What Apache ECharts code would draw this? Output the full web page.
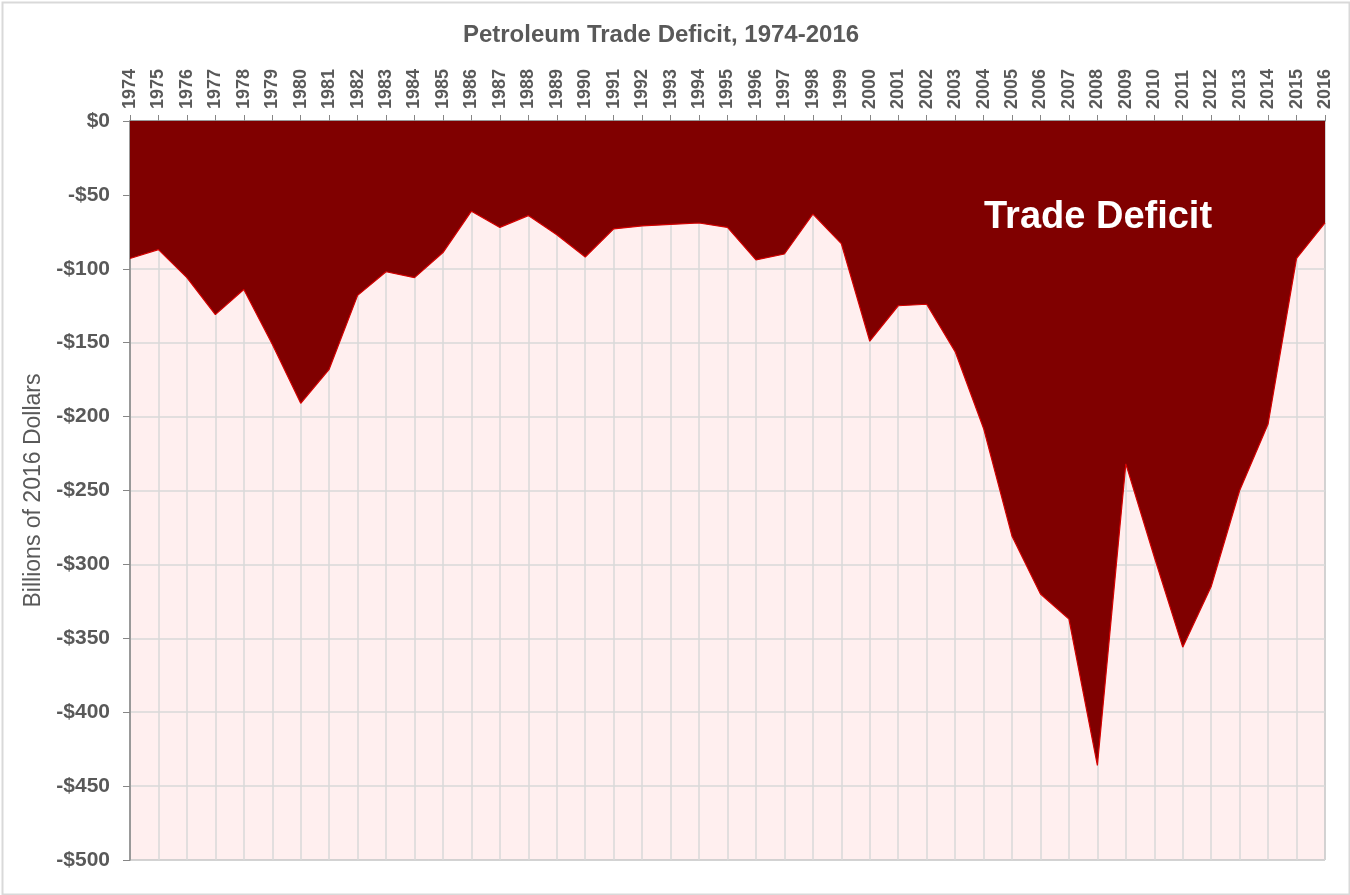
<!DOCTYPE html>
<html>
<head>
<meta charset="utf-8">
<title>Petroleum Trade Deficit, 1974-2016</title>
<script src="https://cdn.jsdelivr.net/npm/echarts@6/dist/echarts.min.js"></script>
<style>
    html, body {
        margin: 0;
        padding: 0;
        background: #ffffff;
    }
    #deficitChart {
        width: 1350px;
        height: 895px;
    }
</style>
</head>
<body>
<div id="deficitChart"></div>
<script>
// years on the top axis
var years = ["1974", "1975", "1976", "1977", "1978", "1979", "1980", "1981", "1982", "1983",
    "1984", "1985", "1986", "1987", "1988", "1989", "1990", "1991", "1992", "1993",
    "1994", "1995", "1996", "1997", "1998", "1999", "2000", "2001", "2002", "2003",
    "2004", "2005", "2006", "2007", "2008", "2009", "2010", "2011", "2012", "2013",
    "2014", "2015", "2016"];

// petroleum trade balance, billions of 2016 dollars
var deficitValues = [-93, -87, -106, -131, -114, -151, -191, -168, -118, -102,
    -106, -89, -61, -72, -64, -77, -92, -73, -71, -70,
    -69, -72, -94, -90, -63, -83, -149, -125, -124, -156,
    -208, -281, -320, -337, -436, -232, -295, -356, -315, -250,
    -205, -93, -69];

// y axis range
var yMin = -500;
var yMax = 0;
var yStep = 50;

var FONT = 'Arial, "Liberation Sans", sans-serif';
var TEXT_GREY = "#595959";
var GRID_GREY = "#d9d9d9";
var AXIS_GREY = "#868686";

//格式化 y 轴的金额
function formatDollar(value) {
    if (value === 0) {
        return "$0";
    }
    return "-$" + Math.abs(value);
}

var chartDom = document.getElementById('deficitChart');
var myChart = echarts.init(chartDom, null, {renderer: 'canvas'});

var option = {
    backgroundColor: '#ffffff',
    animation: false,
    title: {
        text: 'Petroleum Trade Deficit, 1974-2016',
        left: 656,
        textAlign: 'center',
        top: 18,
        textStyle: {
            fontFamily: FONT,
            fontSize: 24,
            fontWeight: 'bold',
            color: TEXT_GREY
        }
    },
    grid: {
        left: 130,
        right: 25,
        top: 121,
        bottom: 35,
        show: true,
        backgroundColor: '#ffefef',
        borderColor: AXIS_GREY,
        borderWidth: 1
    },
    xAxis: {
        type: 'category',
        position: 'top',
        boundaryGap: false,
        data: years,
        axisLine: {
            show: true,
            lineStyle: {color: AXIS_GREY, width: 1.5}
        },
        axisTick: {
            show: true,
            length: 6,
            interval: 0,
            lineStyle: {color: AXIS_GREY}
        },
        axisLabel: {
            interval: 0,
            rotate: 90,
            margin: 12,
            fontFamily: FONT,
            fontSize: 18,
            fontWeight: 'bold',
            color: TEXT_GREY
        },
        splitLine: {
            show: true,
            interval: 0,
            lineStyle: {color: GRID_GREY, width: 1.5}
        }
    },
    yAxis: {
        type: 'value',
        min: yMin,
        max: yMax,
        interval: yStep,
        name: 'Billions of 2016 Dollars',
        nameLocation: 'middle',
        nameGap: 82,
        nameTextStyle: {
            fontFamily: FONT,
            fontSize: 23,
            color: TEXT_GREY
        },
        axisLine: {
            show: true,
            lineStyle: {color: AXIS_GREY, width: 1.5}
        },
        axisTick: {
            show: true,
            length: 7,
            lineStyle: {color: AXIS_GREY}
        },
        axisLabel: {
            margin: 20,
            formatter: formatDollar,
            fontFamily: FONT,
            fontSize: 21,
            fontWeight: 'bold',
            color: TEXT_GREY
        },
        splitLine: {
            show: true,
            lineStyle: {color: GRID_GREY, width: 1.5}
        }
    },
    series: [{
        name: 'Trade Deficit',
        type: 'line',
        data: deficitValues,
        symbol: 'none',
        smooth: false,
        lineStyle: {color: '#d40000', width: 1.2},
        areaStyle: {color: '#800000', opacity: 1, origin: 'end'},
        z: 3
    }],
    graphic: [
        {
            // 外边框
            type: 'rect',
            left: 0,
            top: 0,
            shape: {x: 1, y: 1, width: 1347, height: 892},
            style: {fill: 'none', stroke: GRID_GREY, lineWidth: 2},
            silent: true
        },
        {
            type: 'text',
            left: 984,
            top: 199,
            style: {
                text: 'Trade Deficit',
                fill: '#ffffff',
                font: 'bold 38px ' + FONT
            },
            z: 10
        }
    ]
};

option && myChart.setOption(option);
</script>
</body>
</html>
